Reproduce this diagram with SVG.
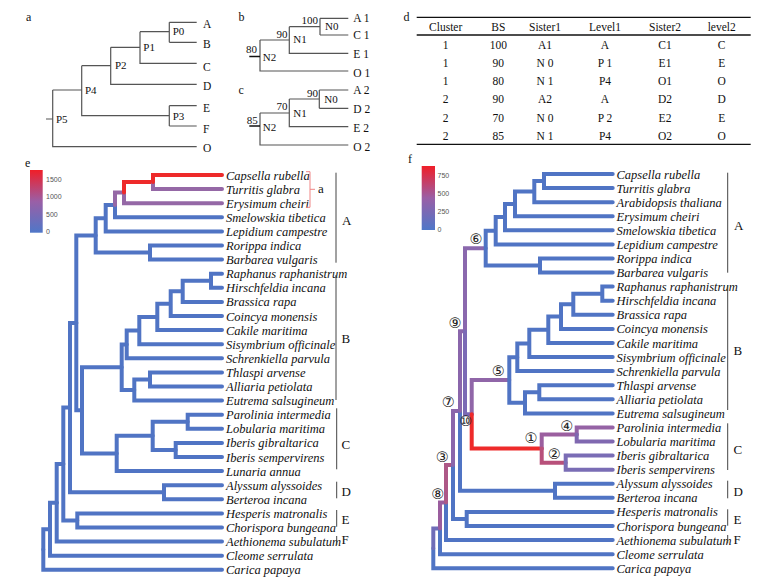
<svg xmlns="http://www.w3.org/2000/svg" width="769" height="582" viewBox="0 0 769 582">
<defs>
<linearGradient id="grad" x1="0" y1="0" x2="0" y2="1">
<stop offset="0" stop-color="#f01e28"/>
<stop offset="0.5" stop-color="#9a5fa6"/>
<stop offset="1" stop-color="#4f77c8"/>
</linearGradient>
<style>
.t{font-family:"Liberation Serif","Times New Roman",serif;font-size:11.5px;fill:#111}
.tp{font-family:"Liberation Serif","Times New Roman",serif;font-size:11px;fill:#111}
.sp{font-family:"Liberation Serif","Times New Roman",serif;font-size:12.5px;font-style:italic;fill:#111}
.cl{font-family:"Liberation Serif","Times New Roman",serif;font-size:13px;fill:#111}
.pl{font-family:"Liberation Serif","Times New Roman",serif;font-size:12px;fill:#111}
.lg{font-family:"Liberation Sans",Arial,sans-serif;font-size:7px;fill:#555}
.cn{font-family:"DejaVu Sans",sans-serif;font-size:14.5px;fill:#222;text-anchor:middle}
.th{font-family:"Liberation Serif","Times New Roman",serif;font-size:11.5px;fill:#111;text-anchor:middle}
.ln{fill:none;stroke:#555;stroke-width:1.2}
.br{fill:none;stroke-width:4;stroke-linecap:round;stroke-linejoin:miter}
.b{stroke:#5074c4}
.r{stroke:#ee2a2a}
.p{stroke:#9568a6}
.bar{stroke:#444;stroke-width:1;fill:none}
.rule{stroke:#111;stroke-width:1.3}
</style>
</defs>
<rect width="769" height="582" fill="#fff"/>

<!-- panel a -->
<g id="panel-a">
<text class="pl" x="26" y="21">a</text>
<g id="a-edges">
<path class="ln" d="M46 119H52.7M52.7 90V146.7H196.7M52.7 90H81.7M81.7 65.7V115.7H169.3M81.7 65.7H110.7M169.3 105.7V126M169.3 105.7H196.7M169.3 126H196.7M110.7 47.3V84.3H196.7M110.7 47.3H140M140 31.7V63.3H196.7M140 31.7H169.3M169.3 22.3V42.3M169.3 22.3H196.7M169.3 42.3H196.7"/>
</g>
<g id="a-P0"><text class="tp" x="172.7" y="35">P0</text></g>
<g id="a-P1"><text class="tp" x="143.3" y="51">P1</text></g>
<g id="a-P2"><text class="tp" x="115" y="69">P2</text></g>
<g id="a-P3"><text class="tp" x="172.7" y="119.5">P3</text></g>
<g id="a-P4"><text class="tp" x="85" y="94">P4</text></g>
<g id="a-P5"><text class="tp" x="56" y="122.7">P5</text></g>
<g id="a-A"><text class="t" x="203" y="27.7">A</text></g>
<g id="a-B"><text class="t" x="203" y="47.7">B</text></g>
<g id="a-C"><text class="t" x="203" y="70.5">C</text></g>
<g id="a-D"><text class="t" x="203" y="90">D</text></g>
<g id="a-E"><text class="t" x="203" y="112.3">E</text></g>
<g id="a-F"><text class="t" x="203" y="132.5">F</text></g>
<g id="a-O"><text class="t" x="203" y="151.7">O</text></g>
</g>

<!-- panel b -->
<g id="panel-b">
<text class="pl" x="238.5" y="21">b</text>
<g id="b-edges">
<path class="ln" d="M320 18.3V35M320 18.3H348.3M320 35H348.3M289.3 26.7V53.3H348.3M289.3 26.7H320M260 40V71H348.3M260 40H289.3"/>
<path d="M249.3 56.5H260" stroke="#111" stroke-width="1.5"/>
</g>
<g id="b-N0"><text class="tp" x="318" y="24.3" text-anchor="end">100</text><text class="tp" x="325" y="30">N0</text></g>
<g id="b-N1"><text class="tp" x="287.5" y="37.7" text-anchor="end">90</text><text class="tp" x="293.3" y="43.3">N1</text></g>
<g id="b-N2"><text class="tp" x="246" y="53.3">80</text><text class="tp" x="262.7" y="61">N2</text></g>
<g id="b-A1"><text class="t" x="353.3" y="21.5">A 1</text></g>
<g id="b-C1"><text class="t" x="353.3" y="39.3">C 1</text></g>
<g id="b-E1"><text class="t" x="353.3" y="58.3">E 1</text></g>
<g id="b-O1"><text class="t" x="353.3" y="77">O 1</text></g>
</g>

<!-- panel c -->
<g id="panel-c">
<text class="pl" x="238.5" y="94">c</text>
<g id="c-edges">
<path class="ln" d="M319.3 90V108.3M319.3 90H348.3M319.3 108.3H348.3M289.3 99V126.7H348.3M289.3 99H319.3M260 113V145H348.3M260 113H289.3"/>
<path d="M249.3 126H260" stroke="#111" stroke-width="1.5"/>
</g>
<g id="c-N0"><text class="tp" x="318" y="97.3" text-anchor="end">90</text><text class="tp" x="324.3" y="102.7">N0</text></g>
<g id="c-N1"><text class="tp" x="287.5" y="110" text-anchor="end">70</text><text class="tp" x="293.3" y="116.7">N1</text></g>
<g id="c-N2"><text class="tp" x="246.7" y="124">85</text><text class="tp" x="262.7" y="131">N2</text></g>
<g id="c-A2"><text class="t" x="353.3" y="94.3">A 2</text></g>
<g id="c-D2"><text class="t" x="353.3" y="112.7">D 2</text></g>
<g id="c-E2"><text class="t" x="353.3" y="131.5">E 2</text></g>
<g id="c-O2"><text class="t" x="353.3" y="150.5">O 2</text></g>
</g>

<!-- panel d table -->
<g id="panel-d">
<text class="pl" x="403.5" y="21">d</text>
<line class="rule" x1="416.7" y1="17.3" x2="750.7" y2="17.3"/>
<line class="rule" x1="416.7" y1="35" x2="750.7" y2="35"/>
<line class="rule" x1="416.7" y1="144.3" x2="750.7" y2="144.3"/>
<g id="d-header">
<text class="th" x="445.7" y="31.3">Cluster</text><text class="th" x="498.3" y="31.3">BS</text><text class="th" x="545" y="31.3">Sister1</text><text class="th" x="605" y="31.3">Level1</text><text class="th" x="665" y="31.3">Sister2</text><text class="th" x="721.7" y="31.3">level2</text>
</g>
<g id="d-row1"><text class="th" x="445.7" y="49">1</text><text class="th" x="498.3" y="49">100</text><text class="th" x="545" y="49">A1</text><text class="th" x="605" y="49">A</text><text class="th" x="665" y="49">C1</text><text class="th" x="721.7" y="49">C</text></g>
<g id="d-row2"><text class="th" x="445.7" y="66.7">1</text><text class="th" x="498.3" y="66.7">90</text><text class="th" x="545" y="66.7">N 0</text><text class="th" x="605" y="66.7">P 1</text><text class="th" x="665" y="66.7">E1</text><text class="th" x="721.7" y="66.7">E</text></g>
<g id="d-row3"><text class="th" x="445.7" y="85">1</text><text class="th" x="498.3" y="85">80</text><text class="th" x="545" y="85">N 1</text><text class="th" x="605" y="85">P4</text><text class="th" x="665" y="85">O1</text><text class="th" x="721.7" y="85">O</text></g>
<g id="d-row4"><text class="th" x="445.7" y="103.3">2</text><text class="th" x="498.3" y="103.3">90</text><text class="th" x="545" y="103.3">A2</text><text class="th" x="605" y="103.3">A</text><text class="th" x="665" y="103.3">D2</text><text class="th" x="721.7" y="103.3">D</text></g>
<g id="d-row5"><text class="th" x="445.7" y="121.7">2</text><text class="th" x="498.3" y="121.7">70</text><text class="th" x="545" y="121.7">N 0</text><text class="th" x="605" y="121.7">P 2</text><text class="th" x="665" y="121.7">E2</text><text class="th" x="721.7" y="121.7">E</text></g>
<g id="d-row6"><text class="th" x="445.7" y="140">2</text><text class="th" x="498.3" y="140">85</text><text class="th" x="545" y="140">N 1</text><text class="th" x="605" y="140">P4</text><text class="th" x="665" y="140">O2</text><text class="th" x="721.7" y="140">O</text></g>
</g>

<!-- panel e -->
<g id="panel-e">
<text class="pl" x="25" y="166.5">e</text>
<g id="e-legend">
<rect x="30" y="170" width="12.7" height="62.7" fill="url(#grad)"/>
<text class="lg" x="46" y="181.5">1500</text><text class="lg" x="46" y="199.2">1000</text><text class="lg" x="46" y="216.8">500</text><text class="lg" x="46" y="234.2">0</text>
</g>
<g id="e-edges">
<path class="br b" d="M43.3 549.5V569.8H222"/>
<path class="br b" d="M43.3 549.5V529.25H50"/>
<path class="br b" d="M50 529.25V555.7H222"/>
<path class="br b" d="M50 529.25V502.8H56.7"/>
<path class="br b" d="M56.7 502.8V541.6H222"/>
<path class="br b" d="M56.7 502.8V464H63.3"/>
<path class="br b" d="M63.3 464V520.45H77.3"/>
<path class="br b" d="M77.3 520.45V513.4H222M77.3 520.45V527.5H222"/>
<path class="br b" d="M63.3 464V407.6H70"/>
<path class="br b" d="M70 407.6V492.25H164"/>
<path class="br b" d="M164 492.25V485.2H222M164 492.25V499.3H222"/>
<path class="br b" d="M70 407.6V322.9H76.3"/>
<path class="br b" d="M76.3 322.9V235.4H95.7"/>
<path class="br b" d="M76.3 322.9V410.35H82"/>
<path class="br b" d="M82 410.35V367.2H121.7"/>
<path class="br b" d="M82 410.35V453.5H116.7"/>
<path class="br b" d="M116.7 453.5V471.1H222M116.7 453.5V435.85H152.7"/>
<path class="br b" d="M152.7 435.85V421.75H187.7M152.7 435.85V449.95H175.7"/>
<path class="br b" d="M187.7 421.75V414.7H222M187.7 421.75V428.8H222M175.7 449.95V442.9H222M175.7 449.95V457H222"/>
<path class="br b" d="M121.7 367.2V344.4H126.7M121.7 367.2V390H134.3"/>
<path class="br b" d="M134.3 390V400.6H222M134.3 390V379.45H150M150 379.45V372.4H222M150 379.45V386.5H222"/>
<path class="br b" d="M126.7 344.4V358.3H222M126.7 344.4V330.55H139.3M139.3 330.55V344.2H222M139.3 330.55V316.9H157.3M157.3 316.9V330.1H222M157.3 316.9V303.65H170.7M170.7 303.65V316H222M170.7 303.65V291.3H182.7M182.7 291.3V301.9H222M182.7 291.3V280.75H211M211 280.75V273.7H222M211 280.75V287.8H222"/>
<path class="br b" d="M95.7 235.4V252.55H150M150 252.55V245.5H222M150 252.55V259.6H222M95.7 235.4V218.2H105.7M105.7 218.2V231.4H222M105.7 218.2V204.95H115M115 204.95V217.3H222"/>
<path class="br p" d="M115 204.95V192.6H124"/>
<path class="br p" d="M124 192.6V203.2H222"/>
<path class="br r" d="M124 192.6V182.05H153"/>
<path class="br p" d="M153 182.05V189.1H222"/>
<path class="br r" d="M153 182.05V175H222"/>
</g>
<g id="e-tips">
<text class="sp" x="226" y="179.5">Capsella rubella</text>
<text class="sp" x="226" y="193.6">Turritis glabra</text>
<text class="sp" x="226" y="207.7">Erysimum cheiri</text>
<text class="sp" x="226" y="221.8">Smelowskia tibetica</text>
<text class="sp" x="226" y="235.9">Lepidium campestre</text>
<text class="sp" x="226" y="250">Rorippa indica</text>
<text class="sp" x="226" y="264.1">Barbarea vulgaris</text>
<text class="sp" x="226" y="278.2">Raphanus raphanistrum</text>
<text class="sp" x="226" y="292.3">Hirschfeldia incana</text>
<text class="sp" x="226" y="306.4">Brassica rapa</text>
<text class="sp" x="226" y="320.5">Coincya monensis</text>
<text class="sp" x="226" y="334.6">Cakile maritima</text>
<text class="sp" x="226" y="348.7">Sisymbrium officinale</text>
<text class="sp" x="226" y="362.8">Schrenkiella parvula</text>
<text class="sp" x="226" y="376.9">Thlaspi arvense</text>
<text class="sp" x="226" y="391">Alliaria petiolata</text>
<text class="sp" x="226" y="405.1">Eutrema salsugineum</text>
<text class="sp" x="226" y="419.2">Parolinia intermedia</text>
<text class="sp" x="226" y="433.3">Lobularia maritima</text>
<text class="sp" x="226" y="447.4">Iberis gibraltarica</text>
<text class="sp" x="226" y="461.5">Iberis sempervirens</text>
<text class="sp" x="226" y="475.6">Lunaria annua</text>
<text class="sp" x="226" y="489.7">Alyssum alyssoides</text>
<text class="sp" x="226" y="503.8">Berteroa incana</text>
<text class="sp" x="226" y="517.9">Hesperis matronalis</text>
<text class="sp" x="226" y="532">Chorispora bungeana</text>
<text class="sp" x="226" y="546.1">Aethionema subulatum</text>
<text class="sp" x="226" y="560.2">Cleome serrulata</text>
<text class="sp" x="226" y="574.3">Carica papaya</text>
</g>
<g id="e-subclade-a">
<path d="M306 171.7H310V207.3H306M310 189.3H315" fill="none" stroke="#f08585" stroke-width="1"/>
<text class="cl" x="318" y="192.5">a</text>
</g>
<g id="e-clades">
<path class="bar" d="M336 172.7V262.7M336 275V400M336.7 408.3V469.3M336.7 481.7V498.3M336.7 510V526.7M336.7 536V545"/>
<text class="cl" x="342" y="225.2">A</text>
<text class="cl" x="341.5" y="343">B</text>
<text class="cl" x="341.5" y="448.5">C</text>
<text class="cl" x="341.5" y="496">D</text>
<text class="cl" x="341.5" y="524">E</text>
<text class="cl" x="341.5" y="544">F</text>
</g>
</g>

<!-- panel f -->
<g id="panel-f">
<text class="pl" x="408" y="163">f</text>
<g id="f-legend">
<rect x="421.7" y="166" width="13.3" height="64" fill="url(#grad)"/>
<text class="lg" x="437.5" y="178.2">750</text><text class="lg" x="437.5" y="196.2">500</text><text class="lg" x="437.5" y="214.2">250</text><text class="lg" x="437.5" y="231.5">0</text>
</g>
<g id="f-edges">
<path class="br b" d="M433.3 548.3V568.2H612.7"/>
<path class="br" stroke="#6f6db8" d="M433.3 548.3V528.4H440"/>
<path class="br b" d="M440 528.4V554.2H612.7"/>
<path class="br" stroke="#9a5d9e" d="M440 528.4V502.55H446"/>
<path class="br b" d="M446 502.55V540.1H612.7"/>
<path class="br" stroke="#ad5887" d="M446 502.55V465H453"/>
<path class="br b" d="M453 465V518.95H466.7M466.7 518.95V511.9H612.7M466.7 518.95V526H612.7"/>
<path class="br" stroke="#8a66ab" d="M453 465V411H460"/>
<path class="br b" d="M460 411V490.8H555M555 490.8V483.8H612.7M555 490.8V497.8H612.7"/>
<path class="br" stroke="#8a66ab" d="M460 411V331.2H465"/>
<path class="br" stroke="#8a68ad" d="M465 331.2V248.15H485.7"/>
<path class="br" stroke="#7b6ab5" d="M465 331.2V414.3H471.7"/>
<path class="br" stroke="#9066a8" d="M471.7 414.3V380H509.3"/>
<path class="br r" d="M471.7 414.3V448.55H541.7"/>
<path class="br" stroke="#9b5f9f" d="M541.7 448.55V434.45H576.7"/>
<path class="br" stroke="#b8507a" d="M541.7 448.55V462.65H565.7"/>
<path class="br" stroke="#9563a5" d="M576.7 434.45V427.4H612.7"/>
<path class="br" stroke="#8068b0" d="M576.7 434.45V441.5H612.7"/>
<path class="br" stroke="#7a6db5" d="M565.7 462.65V455.6H612.7M565.7 462.65V469.7H612.7"/>
<path class="br b" d="M509.3 380V357.25H517.3M509.3 380V402.8H525M525 402.8V413.4H612.7M525 402.8V392.25H539.3M539.3 392.25V385.2H612.7M539.3 392.25V399.3H612.7"/>
<path class="br b" d="M517.3 357.25V371.1H612.7M517.3 357.25V343.4H529.3M529.3 343.4V357H612.7M529.3 343.4V329.8H548.3M548.3 329.8V343H612.7M548.3 329.8V316.55H561M561 316.55V328.9H612.7M561 316.55V304.2H573.3M573.3 304.2V314.8H612.7M573.3 304.2V293.65H602.3M602.3 293.65V286.6H612.7M602.3 293.65V300.7H612.7"/>
<path class="br b" d="M485.7 248.15V265.55H540M540 265.55V258.5H612.7M540 265.55V272.6H612.7M485.7 248.15V230.75H495.7M495.7 230.75V244.4H612.7M495.7 230.75V217.1H505M505 217.1V230.3H612.7M505 217.1V203.9H515M515 203.9V216.2H612.7M515 203.9V191.6H534.3M534.3 191.6V202.2H612.7M534.3 191.6V181.05H544M544 181.05V174H612.7M544 181.05V188.1H612.7"/>
</g>
<g id="f-nodes">
<text class="cn" x="476" y="243.5">⑥</text>
<text class="cn" x="498.3" y="376.2">⑤</text>
<text class="cn" x="566.7" y="431.2">④</text>
<text class="cn" x="531" y="443.2">①</text>
<text class="cn" x="554.3" y="458.5">②</text>
<text class="cn" x="465.7" y="425.9">⑩</text>
<text class="cn" x="455" y="327.9">⑨</text>
<text class="cn" x="448.3" y="406.9">⑦</text>
<text class="cn" x="442.3" y="462.2">③</text>
<text class="cn" x="437.7" y="498.5">⑧</text>
</g>
<g id="f-tips">
<text class="sp" x="616.5" y="178.5">Capsella rubella</text>
<text class="sp" x="616.5" y="192.6">Turritis glabra</text>
<text class="sp" x="616.5" y="206.7">Arabidopsis thaliana</text>
<text class="sp" x="616.5" y="220.7">Erysimum cheiri</text>
<text class="sp" x="616.5" y="234.8">Smelowskia tibetica</text>
<text class="sp" x="616.5" y="248.9">Lepidium campestre</text>
<text class="sp" x="616.5" y="263">Rorippa indica</text>
<text class="sp" x="616.5" y="277.1">Barbarea vulgaris</text>
<text class="sp" x="616.5" y="291.1">Raphanus raphanistrum</text>
<text class="sp" x="616.5" y="305.2">Hirschfeldia incana</text>
<text class="sp" x="616.5" y="319.3">Brassica rapa</text>
<text class="sp" x="616.5" y="333.4">Coincya monensis</text>
<text class="sp" x="616.5" y="347.5">Cakile maritima</text>
<text class="sp" x="616.5" y="361.5">Sisymbrium officinale</text>
<text class="sp" x="616.5" y="375.6">Schrenkiella parvula</text>
<text class="sp" x="616.5" y="389.7">Thlaspi arvense</text>
<text class="sp" x="616.5" y="403.8">Alliaria petiolata</text>
<text class="sp" x="616.5" y="417.9">Eutrema salsugineum</text>
<text class="sp" x="616.5" y="431.9">Parolinia intermedia</text>
<text class="sp" x="616.5" y="446">Lobularia maritima</text>
<text class="sp" x="616.5" y="460.1">Iberis gibraltarica</text>
<text class="sp" x="616.5" y="474.2">Iberis sempervirens</text>
<text class="sp" x="616.5" y="488.3">Alyssum alyssoides</text>
<text class="sp" x="616.5" y="502.3">Berteroa incana</text>
<text class="sp" x="616.5" y="516.4">Hesperis matronalis</text>
<text class="sp" x="616.5" y="530.5">Chorispora bungeana</text>
<text class="sp" x="616.5" y="544.6">Aethionema subulatum</text>
<text class="sp" x="616.5" y="558.7">Cleome serrulata</text>
<text class="sp" x="616.5" y="572.7">Carica papaya</text>
</g>
<g id="f-clades">
<path class="bar" d="M727.7 172.7V272.7M727.7 285V410M727.7 423.3V470M727.7 480.7V498.3M727.7 509.3V525.7M727.7 535V543.3"/>
<text class="cl" x="734" y="229.5">A</text>
<text class="cl" x="733.5" y="355">B</text>
<text class="cl" x="733.5" y="453.5">C</text>
<text class="cl" x="733.5" y="496">D</text>
<text class="cl" x="733.5" y="524">E</text>
<text class="cl" x="733.5" y="544">F</text>
</g>
</g>
</svg>
